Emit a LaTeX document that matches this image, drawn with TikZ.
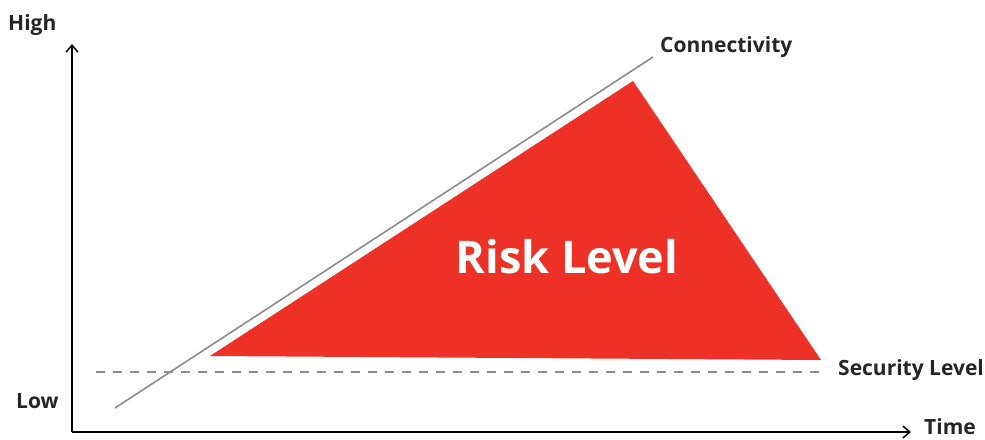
\documentclass[tikz,border=0pt]{standalone}
\usepackage{fontspec}
\setmainfont{Open Sans}
\usetikzlibrary{arrows.meta}
\definecolor{riskred}{RGB}{238,49,38}
\definecolor{linegray}{RGB}{140,140,140}
\begin{document}
\begin{tikzpicture}[x=1pt,y=-1pt,
  axis/.style={draw=black,line width=2pt,-{Straight Barb[length=7pt,width=12pt,line width=1.5pt]}},
  lbl/.style={font=\fontsize{21}{25}\selectfont\bfseries,text=black!85,inner sep=0pt}]
\useasboundingbox (0,0) rectangle (985,439);
\coordinate (O) at (72,432);
\coordinate (Ytop) at (72,44);
\coordinate (Xend) at (911,432);
\draw[axis] (O) -- (Ytop);
\draw[axis] (O) -- (Xend);
\coordinate (A) at (210,356);
\coordinate (B) at (633,81);
\coordinate (C) at (821,360);
\fill[riskred] (A) -- (B) -- (C) -- cycle;
\coordinate (c1) at (115,408);
\coordinate (c2) at (653,57);
\draw[linegray,line width=1.6pt] (c1) -- (c2);
\coordinate (s1) at (96,372);
\coordinate (s2) at (820,372);
\draw[linegray,line width=1.5pt,dash pattern=on 9pt off 8pt] (s1) -- (s2);
\node[lbl,anchor=west] (high) at (8,25) {High};
\node[lbl,anchor=west] (low) at (16,401) {Low};
\node[lbl,anchor=west] (conn) at (660,47) {Connectivity};
\node[lbl,anchor=west] (sec) at (838,370) {Security Level};
\node[lbl,anchor=west] (time) at (924,427) {Time};
\node[font=\fontsize{45}{52}\selectfont\bfseries,text=white,inner sep=0pt] (risk) at (567,257) {Risk Level};
\end{tikzpicture}
\end{document}
